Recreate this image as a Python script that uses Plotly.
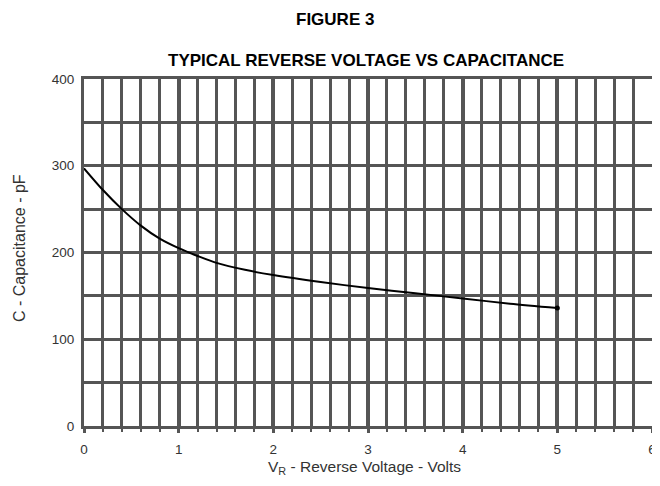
import plotly.graph_objects as go

voltage = [0, 0.2, 0.4, 0.6, 0.8, 1.0, 1.2, 1.4, 1.7, 2.0, 2.5, 3.0, 3.5, 4.0, 4.5, 5.0]
capacitance = [297, 272, 250, 231, 216, 205, 196, 188, 180, 174, 166, 159, 153, 147, 141, 136]

x_ticks = [0, 1, 2, 3, 4, 5, 6]
y_ticks = [0, 100, 200, 300, 400]

GRID = "#555555"
FONT = "Liberation Sans, Arial, sans-serif"
BOLD = "Liberation Sans, Arial, sans-serif"

# page body has an 8px default margin; work in reference pixel coords and offset
OFF = 8
W, H = 660 - OFF, 486 - 2 * OFF
PL, PR, PT, PB = 84, 652, 79, 426  # plot edges in reference pixels
L, R, T = PL - OFF, W - (PR - OFF), PT - OFF
B = H - (PB - OFF)
PW, PH = W - L - R, H - T - B

def px(xp):
    return (xp - OFF - L) / PW

def py(yp):
    return (H - B - (yp - OFF)) / PH

fig = go.Figure()
fig.add_trace(go.Scatter(
    x=voltage, y=capacitance, mode="lines",
    line=dict(color="black", width=2, shape="spline", smoothing=0.8),
    hoverinfo="skip", showlegend=False,
))
fig.add_trace(go.Scatter(
    x=[voltage[-1]], y=[capacitance[-1]], mode="markers",
    marker=dict(color="black", size=5), showlegend=False,
))

fig.update_layout(
    width=W, height=H,
    margin=dict(l=L, r=R, t=T, b=B, autoexpand=False),
    paper_bgcolor="white", plot_bgcolor="white",
    font=dict(family=FONT, size=12, color="#333333"),
    showlegend=False,
    annotations=[
        dict(text="<b>FIGURE 3</b>", xref="paper", yref="paper",
             x=px(335), y=py(19), xanchor="center", yanchor="middle",
             showarrow=False, font=dict(family=BOLD, size=17, color="black")),
        dict(text="<b>TYPICAL REVERSE VOLTAGE VS CAPACITANCE</b>", xref="paper", yref="paper",
             x=px(366), y=py(61), xanchor="center", yanchor="middle",
             showarrow=False, font=dict(family=BOLD, size=17, color="black")),
        dict(text="V<sub>R</sub> - Reverse Voltage - Volts", xref="paper", yref="paper",
             x=px(364), y=py(467), xanchor="center", yanchor="middle",
             showarrow=False, font=dict(family=FONT, size=15.5, color="#333333")),
        dict(text="C - Capacitance - pF", xref="paper", yref="paper", textangle=-90,
             x=px(19), y=py(248), xanchor="center", yanchor="middle",
             showarrow=False, font=dict(family=FONT, size=16, color="#333333")),
    ],
)

fig.update_xaxes(
    range=[0, 6], tickvals=x_ticks, ticktext=[str(v) for v in x_ticks],
    showgrid=True, gridcolor=GRID, gridwidth=4,
    minor=dict(dtick=0.2, showgrid=True, gridcolor=GRID, gridwidth=2.5,
               ticks="outside", ticklen=3, tickcolor=GRID, tickwidth=2),
    ticks="outside", ticklen=4, tickwidth=3, tickcolor=GRID,
    ticklabelstandoff=5, ticklabeloverflow="allow", automargin=False,
    showline=True, linecolor=GRID, linewidth=3, mirror=True,
    zeroline=False, fixedrange=True,
    tickfont=dict(family=FONT, size=13.5, color="#333333"),
)
fig.update_yaxes(
    range=[0, 400], tickvals=y_ticks, ticktext=[str(v) for v in y_ticks],
    showgrid=True, gridcolor=GRID, gridwidth=2.5,
    minor=dict(dtick=50, showgrid=True, gridcolor=GRID, gridwidth=2.5),
    ticks="", ticklabelstandoff=4, ticklabeloverflow="allow", automargin=False,
    showline=True, linecolor=GRID, linewidth=3, mirror=True,
    zeroline=False, fixedrange=True,
    tickfont=dict(family=FONT, size=13.5, color="#333333"),
)

fig.write_html("out.html")
